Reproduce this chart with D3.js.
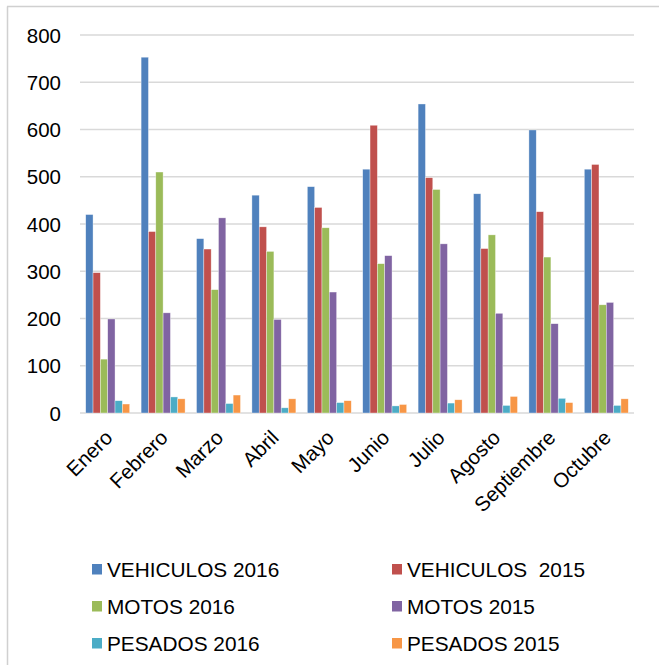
<!DOCTYPE html>
<html>
<head>
<meta charset="utf-8">
<script src="https://cdn.jsdelivr.net/npm/d3@7"></script>
<style>
  html, body { margin: 0; padding: 0; background: #fff; }
  svg { display: block; font-family: "Liberation Sans", Arial, sans-serif; }
</style>
</head>
<body>
<svg id="chart" width="659" height="665"></svg>
<script>
const months = ["Enero","Febrero","Marzo","Abril","Mayo","Junio","Julio","Agosto","Septiembre","Octubre"];
const seriesNames = ["VEHICULOS 2016","VEHICULOS  2015","MOTOS 2016","MOTOS 2015","PESADOS 2016","PESADOS 2015"];
const seriesColors = ["#4F81BD","#C0504D","#9BBB59","#8064A2","#4BACC6","#F79646"];
const vehiculos2016 = [420, 753, 369, 461, 479, 516, 654, 464, 599, 516];
const vehiculos2015 = [297, 384, 347, 394, 435, 609, 498, 348, 426, 526];
const motos2016     = [114, 510, 261, 342, 392, 316, 473, 377, 330, 229];
const motos2015     = [199, 212, 413, 198, 256, 333, 358, 211, 189, 234];
const pesados2016   = [26, 34, 20, 11, 22, 15, 21, 16, 31, 16];
const pesados2015   = [19, 30, 38, 30, 26, 18, 28, 35, 22, 30];
const yTicks = [0, 100, 200, 300, 400, 500, 600, 700, 800];

const seriesValues = [vehiculos2016, vehiculos2015, motos2016, motos2015, pesados2016, pesados2015];

const svg = d3.select("#chart");
const FONT = "'Liberation Sans', Arial, sans-serif";

// frame
svg.append("line").attr("x1", 7.5).attr("x2", 7.5).attr("y1", 6.5).attr("y2", 665)
  .attr("stroke", "#d0d0d0").attr("stroke-width", 1.5);
svg.append("line").attr("x1", 7).attr("x2", 659).attr("y1", 6.5).attr("y2", 6.5)
  .attr("stroke", "#d0d0d0").attr("stroke-width", 1.5);

const x0 = d3.scaleBand().domain(months).range([80, 634]).paddingInner(0).paddingOuter(0);
const x1 = d3.scaleBand().domain(seriesNames).range([0, x0.bandwidth()]).paddingInner(0).paddingOuter(0.78);
const y = d3.scaleLinear().domain([0, 800]).range([413, 35]);

// gridlines
svg.append("g").selectAll("line").data(yTicks).join("line")
  .attr("x1", 80).attr("x2", 634)
  .attr("y1", d => y(d)).attr("y2", d => y(d))
  .attr("stroke", "#d9d9d9").attr("stroke-width", 1.6);

// y labels
const yAxis = d3.axisLeft(y).tickValues(yTicks).tickSize(0).tickPadding(0);
const gy = svg.append("g").attr("transform", "translate(61,0)").call(yAxis);
gy.select(".domain").remove();
gy.selectAll("text").attr("font-size", 20.5).attr("fill", "#000")
  .attr("font-family", FONT).attr("dy", "0.35em");

// bars
const groups = svg.append("g").selectAll("g").data(months).join("g")
  .attr("transform", d => `translate(${x0(d)},0)`);
groups.selectAll("rect")
  .data((m, i) => seriesNames.map((s, k) => ({ s, k, v: seriesValues[k][i] })))
  .join("rect")
  .attr("x", d => x1(d.s))
  .attr("width", x1.bandwidth())
  .attr("y", d => y(d.v))
  .attr("height", d => y(0) - y(d.v))
  .attr("fill", d => seriesColors[d.k])
  .attr("stroke", "#ffffff").attr("stroke-opacity", 0.6).attr("stroke-width", 0.6);

// x labels
const xAxis = d3.axisBottom(x0).tickSize(0).tickPadding(0);
const gx = svg.append("g").attr("transform", "translate(0,413)").call(xAxis);
gx.select(".domain").remove();
gx.selectAll("text")
  .attr("font-size", 20.5).attr("fill", "#000")
  .attr("font-family", FONT)
  .attr("text-anchor", "end")
  .attr("dy", 0).attr("y", 0)
  .attr("transform", "translate(6,26) rotate(-45)");

// legend
const legendPos = [[92, 577], [392, 577], [92, 614], [392, 614], [92, 651], [392, 651]];
const lg = svg.append("g").selectAll("g").data(seriesNames).join("g")
  .attr("transform", (d, i) => `translate(${legendPos[i][0]},${legendPos[i][1]})`);
lg.append("rect").attr("x", 0).attr("y", -13).attr("width", 10).attr("height", 10.5)
  .attr("fill", (d, i) => seriesColors[i]);
lg.append("text").attr("x", 15).attr("y", 0)
  .attr("font-size", 20.8).attr("fill", "#000")
  .attr("font-family", FONT)
  .style("white-space", "pre")
  .attr("xml:space", "preserve")
  .text(d => d);
</script>
</body>
</html>
